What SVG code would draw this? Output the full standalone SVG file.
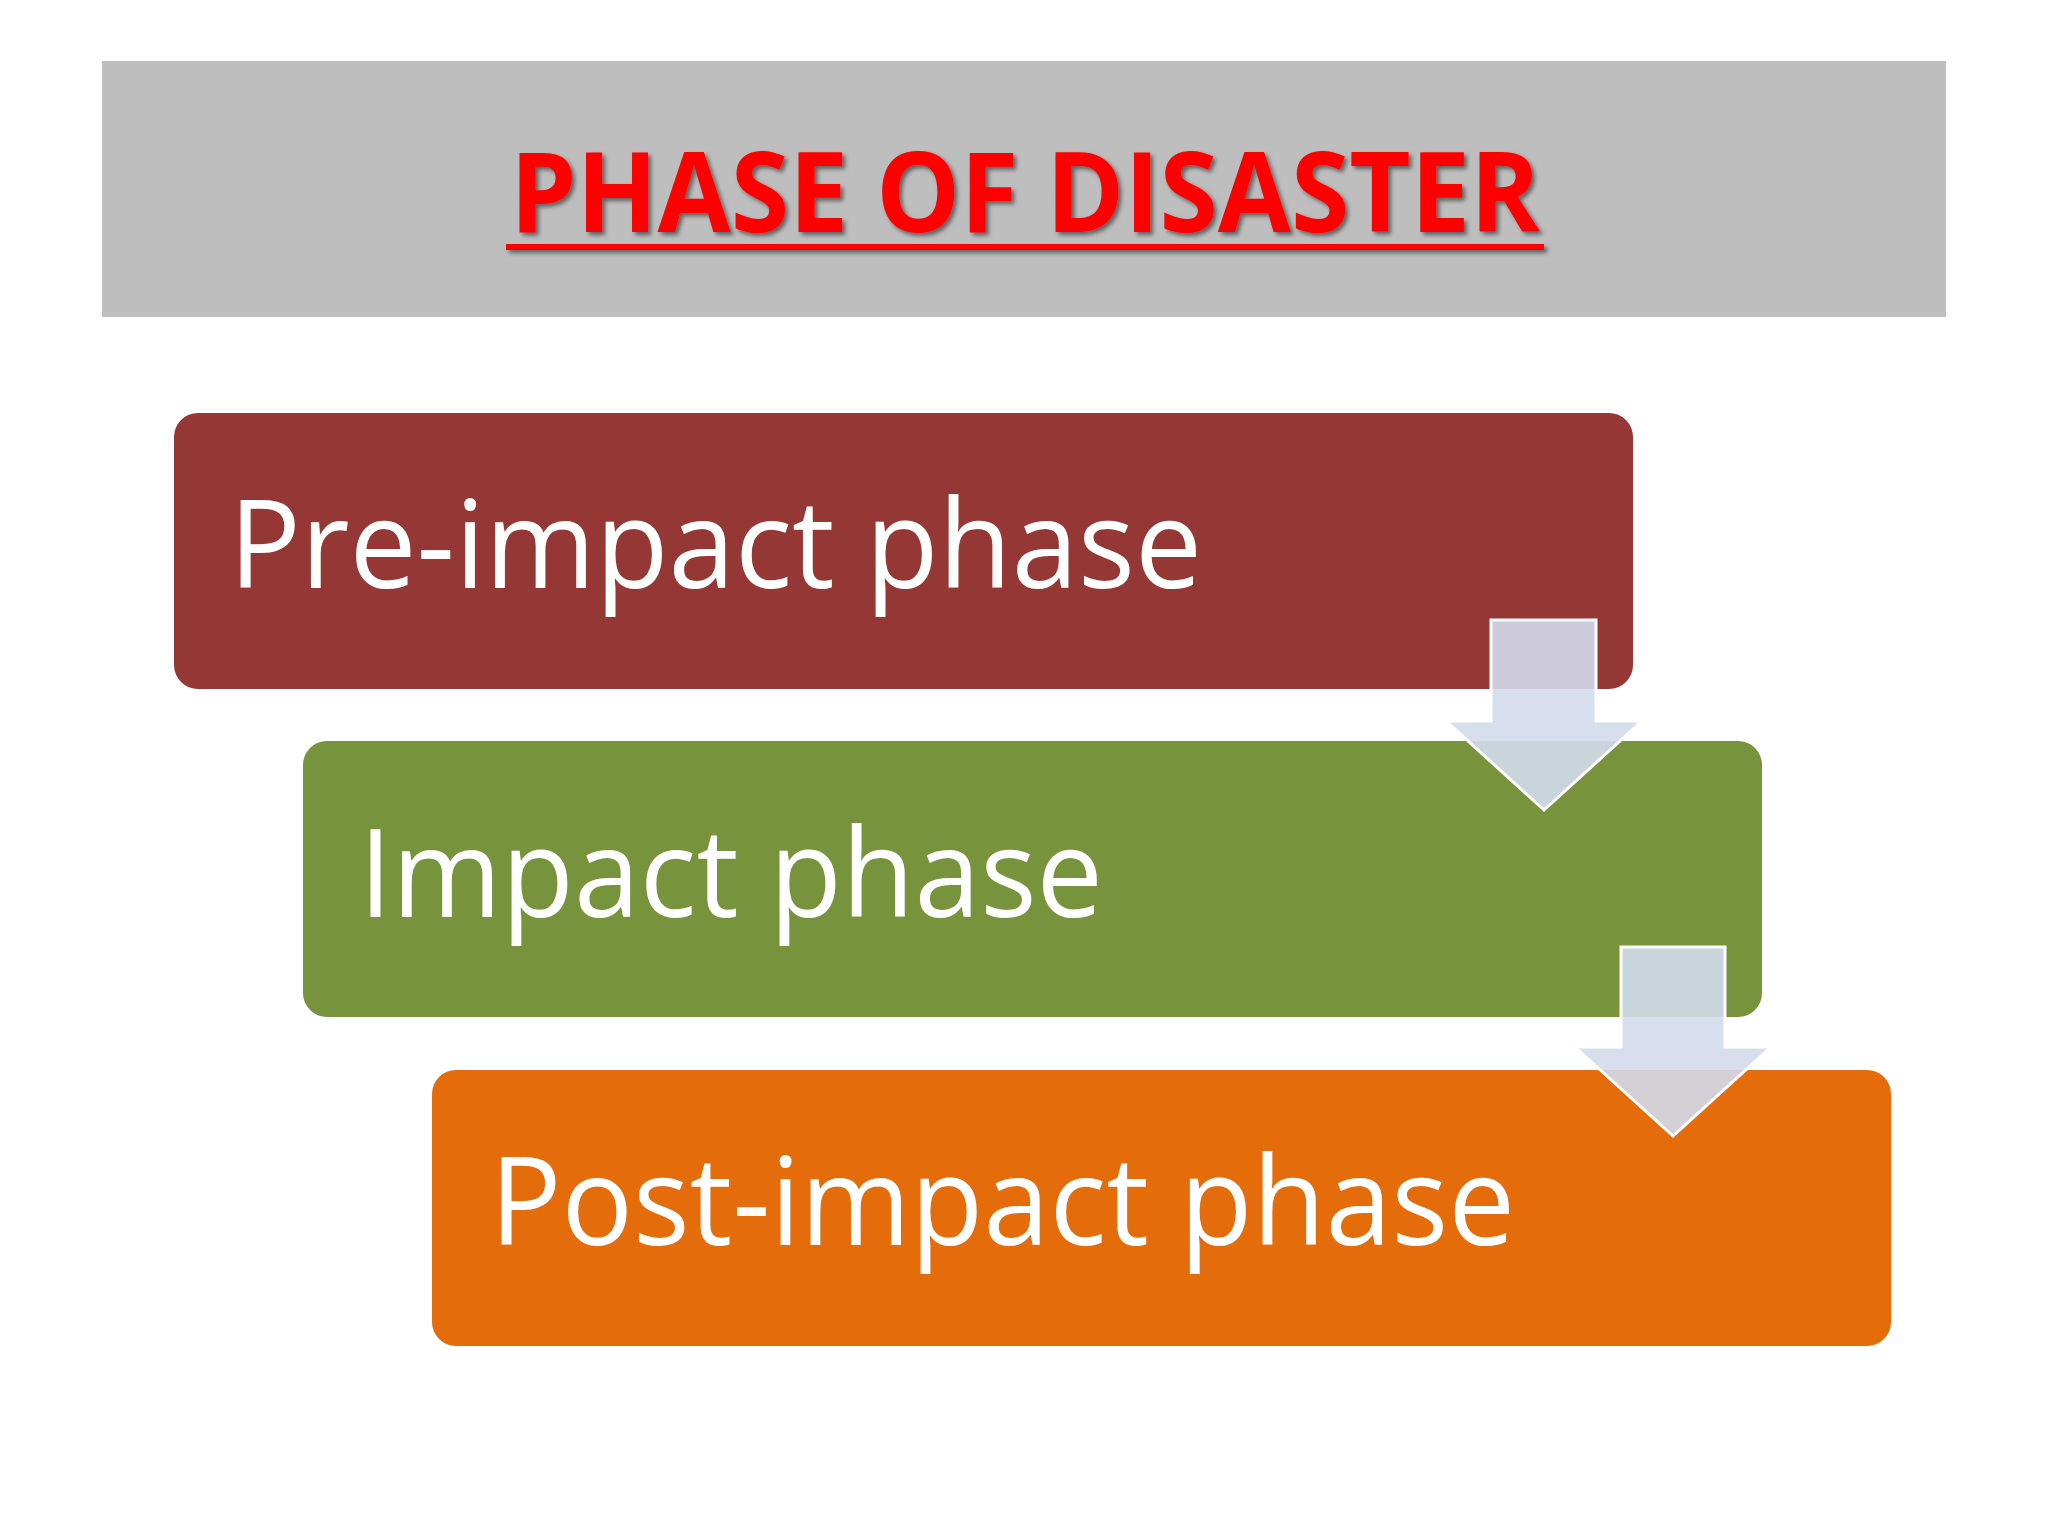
<svg xmlns="http://www.w3.org/2000/svg" width="2048" height="1536" viewBox="0 0 2048 1536">
<style>
.lbl{font-family:"Open Sans","Noto Sans",sans-serif;font-size:122px;fill:#ffffff}
.arr{fill:#d3dbec;fill-opacity:0.9;stroke:#ffffff;stroke-width:3}
</style>
<defs><filter id="sh"><feDropShadow dx="3" dy="3" stdDeviation="2" flood-color="#000" flood-opacity="0.5"/></filter></defs>
<rect width="2048" height="1536" fill="#ffffff"/>
<g id="header">
<rect x="102" y="61" width="1844" height="256" fill="#bfbebe"/>
<g filter="url(#sh)">
<text x="1025" y="232" text-anchor="middle" font-family="Open Sans,sans-serif" font-weight="bold" font-size="112" fill="#ff0000" textLength="1030" lengthAdjust="spacingAndGlyphs">PHASE OF DISASTER</text>
<rect x="506" y="244" width="1038" height="6" fill="#ff0000"/>
</g>
</g>
<g id="n1"><rect x="174" y="413" width="1459" height="276" rx="24" fill="#953735"/>
<text class="lbl" x="229" y="588" textLength="973" lengthAdjust="spacingAndGlyphs">Pre-impact phase</text></g>
<g id="n2"><rect x="303" y="741" width="1459" height="276" rx="24" fill="#77933c"/>
<text class="lbl" x="359" y="917" textLength="744" lengthAdjust="spacingAndGlyphs">Impact phase</text></g>
<g id="n3"><rect x="432" y="1070" width="1459" height="276" rx="24" fill="#e46c0a"/>
<text class="lbl" x="490" y="1245" textLength="1025" lengthAdjust="spacingAndGlyphs">Post-impact phase</text></g>
<g id="connectors">
<polygon class="arr" points="1491,620 1596,620 1596,721 1642,721 1544,810 1446,721 1491,721"/>
<polygon class="arr" points="1621,947 1725,947 1725,1047 1771,1047 1673,1136 1575,1047 1621,1047"/>
</g>
</svg>
